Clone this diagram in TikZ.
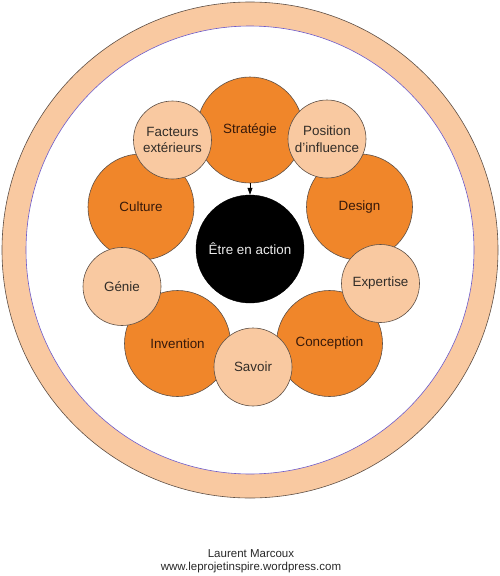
\documentclass[tikz,border=0pt]{standalone}
\usepackage{fontspec}
\setmainfont{Liberation Sans}
\usetikzlibrary{arrows.meta}
\definecolor{orangeC}{RGB}{240,134,42}
\definecolor{peachC}{RGB}{249,201,161}
\definecolor{edgeC}{RGB}{95,80,70}
\definecolor{ringIn}{RGB}{110,90,200}
\definecolor{txtO}{RGB}{55,25,10}
\definecolor{txtP}{RGB}{50,45,40}
\tikzset{
  bigc/.style={circle, draw=edgeC, line width=0.6pt, fill=orangeC, inner sep=0pt, minimum size=106pt,
    text=txtO, font=\fontsize{13.4}{16.5}\selectfont, align=center},
  smallc/.style={circle, draw=edgeC, line width=0.6pt, fill=peachC, inner sep=0pt, minimum size=78pt,
    text=txtP, font=\fontsize{13.4}{16.5}\selectfont, align=center},
  corec/.style={circle, fill=black, draw=black, inner sep=0pt, minimum size=108pt,
    text={rgb,255:red,235;green,235;blue,235}, font=\fontsize{13.4}{16.5}\selectfont},
  foot/.style={text={rgb,255:red,40;green,40;blue,40}, font=\fontsize{11.5}{13}\selectfont, inner sep=0pt}
}
\begin{document}
\begin{tikzpicture}[x=1pt,y=-1pt]
\useasboundingbox (0,0) rectangle (500,576);
% outer ring
\fill[peachC] (250,250) circle (248);
\draw[edgeC, line width=0.6pt] (250,250) circle (248);
\fill[white] (250,250) circle (224);
\draw[ringIn, line width=0.6pt] (250,250) circle (224);
% big circles
\node[bigc] (strat) at (250,130) {Stratégie};
\node[bigc] (cult) at (141,207) {Culture};
\node[bigc] (design) at (359.5,207) {Design};
\node[bigc] (inv) at (177.5,343.5) {Invention};
\node[bigc] (conc) at (329.5,343.5) {Conception};
% small circles
\node[smallc] (fact) at (172.5,140) {Facteurs\\extérieurs};
\node[smallc] (pos) at (327,139) {Position\\d’influence};
\node[smallc] (genie) at (122,286.5) {Génie};
\node[smallc] (exp) at (380.5,283.5) {Expertise};
\node[smallc] (sav) at (253,367) {Savoir};
% core
\node[corec] (core) at (250,249) {Être en action};
\draw[-{Triangle[length=7pt,width=5pt]}, line width=0.6pt, black] (strat.south) -- (core.north);
% footer
\node[foot] (author) at (251,554) {Laurent Marcoux};
\node[foot] (site) at (251,568) {www.leprojetinspire.wordpress.com};
\end{tikzpicture}
\end{document}
